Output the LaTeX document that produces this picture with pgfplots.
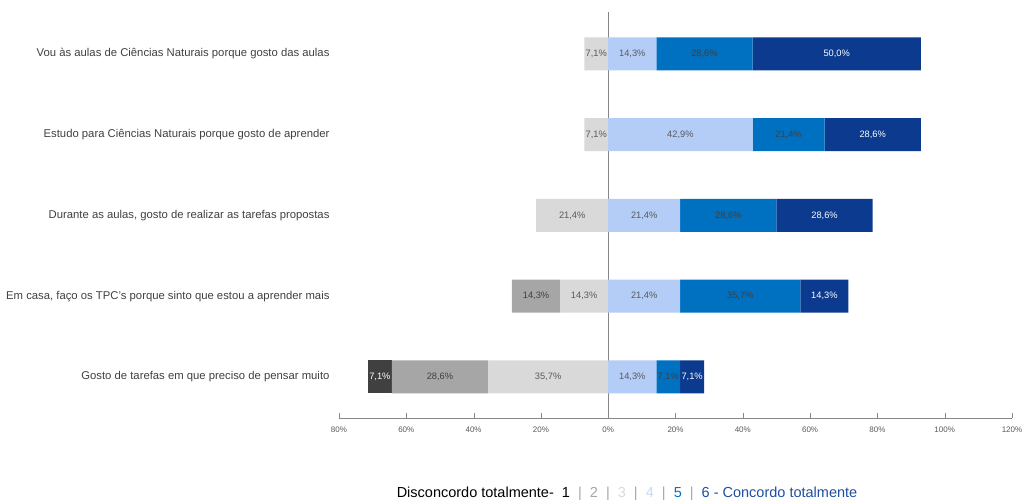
\documentclass[border=0pt]{standalone}
\usepackage{pgfplots}
\pgfplotsset{compat=1.18}
\usepackage{fontspec}
\setmainfont{Liberation Sans}
\definecolor{c1}{HTML}{404040}
\definecolor{c2}{HTML}{A6A6A6}
\definecolor{c3}{HTML}{D9D9D9}
\definecolor{c4}{HTML}{B4CDF7}
\definecolor{c5}{HTML}{0070C0}
\definecolor{c6}{HTML}{0B3A8F}
\definecolor{lbl}{HTML}{595959}
\definecolor{lbldark}{HTML}{404040}
\definecolor{axisgray}{HTML}{868686}
\definecolor{txt}{HTML}{404040}
\definecolor{leg4}{HTML}{C6D9F1}
\definecolor{leg6}{HTML}{1F4E9F}

\pgfplotsset{
 /pgf/number format/assume math mode=true,
 likert/.style={
  xbar stacked, scale only axis, x=3.365pt, height=406pt,
  xmin=-80, xmax=120, ymin=-0.51, ymax=4.52,
  bar width=33pt, point meta=explicit,
  nodes near coords={\pgfmathfloatifflags{\pgfplotspointmeta}{0}{}{\pgfmathprintnumber[fixed,fixed zerofill,precision=1,use comma,assume math mode=true]{\pgfplotspointmeta}\%}},
  nodes near coords align=center,
  every node near coord/.append style={anchor=center, inner sep=0pt, font=\fontsize{9.3}{11}\selectfont, text=lbl},
 }
}

\begin{document}
\begin{tikzpicture}
\useasboundingbox (0,0) rectangle (1025pt,499pt);
% negative side
\begin{axis}[likert, at={(339pt,81pt)}, anchor=south west,
  axis x line*=bottom, axis y line*=left,
  x axis line style={-, axisgray},
  y axis line style={draw=none},
  xtick={-80,-60,-40,-20,0,20,40,60,80,100,120},
  xticklabels={80\%,60\%,40\%,20\%,0\%,20\%,40\%,60\%,80\%,100\%,120\%},
  xtick style={axisgray}, tick align=inside, major tick length=5pt,
  xticklabel style={font=\fontsize{8}{9}\selectfont, text=lbl, yshift=-5pt},
  ytick={0,1,2,3,4}, ytick style={draw=none},
  yticklabels={Gosto de tarefas em que preciso de pensar muito,
    {Em casa, faço os TPC's porque sinto que estou a aprender mais},
    {Durante as aulas, gosto de realizar as tarefas propostas},
    Estudo para Ciências Naturais porque gosto de aprender,
    Vou às aulas de Ciências Naturais porque gosto das aulas},
  yticklabel style={font=\fontsize{11.3}{13}\selectfont, text=txt, xshift=-6pt},
]
\addplot[fill=c3, draw=none] coordinates {(-7.1,4) [7.1] (-7.1,3) [7.1] (-21.4,2) [21.4] (-14.3,1) [14.3] (-35.7,0) [35.7]};
\addplot[fill=c2, draw=none, every node near coord/.append style={text=lbldark}] coordinates {(0,4) [0] (0,3) [0] (0,2) [0] (-14.3,1) [14.3] (-28.6,0) [28.6]};
\addplot[fill=c1, draw=none, every node near coord/.append style={text=white}] coordinates {(0,4) [0] (0,3) [0] (0,2) [0] (0,1) [0] (-7.1,0) [7.1]};
\end{axis}
% positive side
\begin{axis}[likert, at={(339pt,81pt)}, anchor=south west, hide axis]
\addplot[fill=c4, draw=none] coordinates {(14.3,4) [14.3] (42.9,3) [42.9] (21.4,2) [21.4] (21.4,1) [21.4] (14.3,0) [14.3]};
\addplot[fill=c5, draw=none, every node near coord/.append style={text=lbldark}] coordinates {(28.6,4) [28.6] (21.4,3) [21.4] (28.6,2) [28.6] (35.7,1) [35.7] (7.1,0) [7.1]};
\addplot[fill=c6, draw=none, every node near coord/.append style={text=white}] coordinates {(50.0,4) [50.0] (28.6,3) [28.6] (28.6,2) [28.6] (14.3,1) [14.3] (7.1,0) [7.1]};
\draw[axisgray] (axis cs:0,-0.51) -- (axis cs:0,4.52);
\end{axis}
\node[anchor=base, font=\fontsize{14.5}{16}\selectfont, inner sep=0pt] at (627pt,2pt)
 {\textcolor{black}{Disconcordo totalmente-\ \ 1}\ \ \textcolor{c2}{|}\ \ \textcolor{c2}{2}\ \ \textcolor{c2}{|}\ \ \textcolor{c3}{3}\ \ \textcolor{c2}{|}\ \ \textcolor{leg4}{4}\ \ \textcolor{c2}{|}\ \ \textcolor{c5}{5}\ \ \textcolor{c2}{|}\ \ \textcolor{leg6}{6 - Concordo totalmente}};
\end{tikzpicture}
\end{document}
